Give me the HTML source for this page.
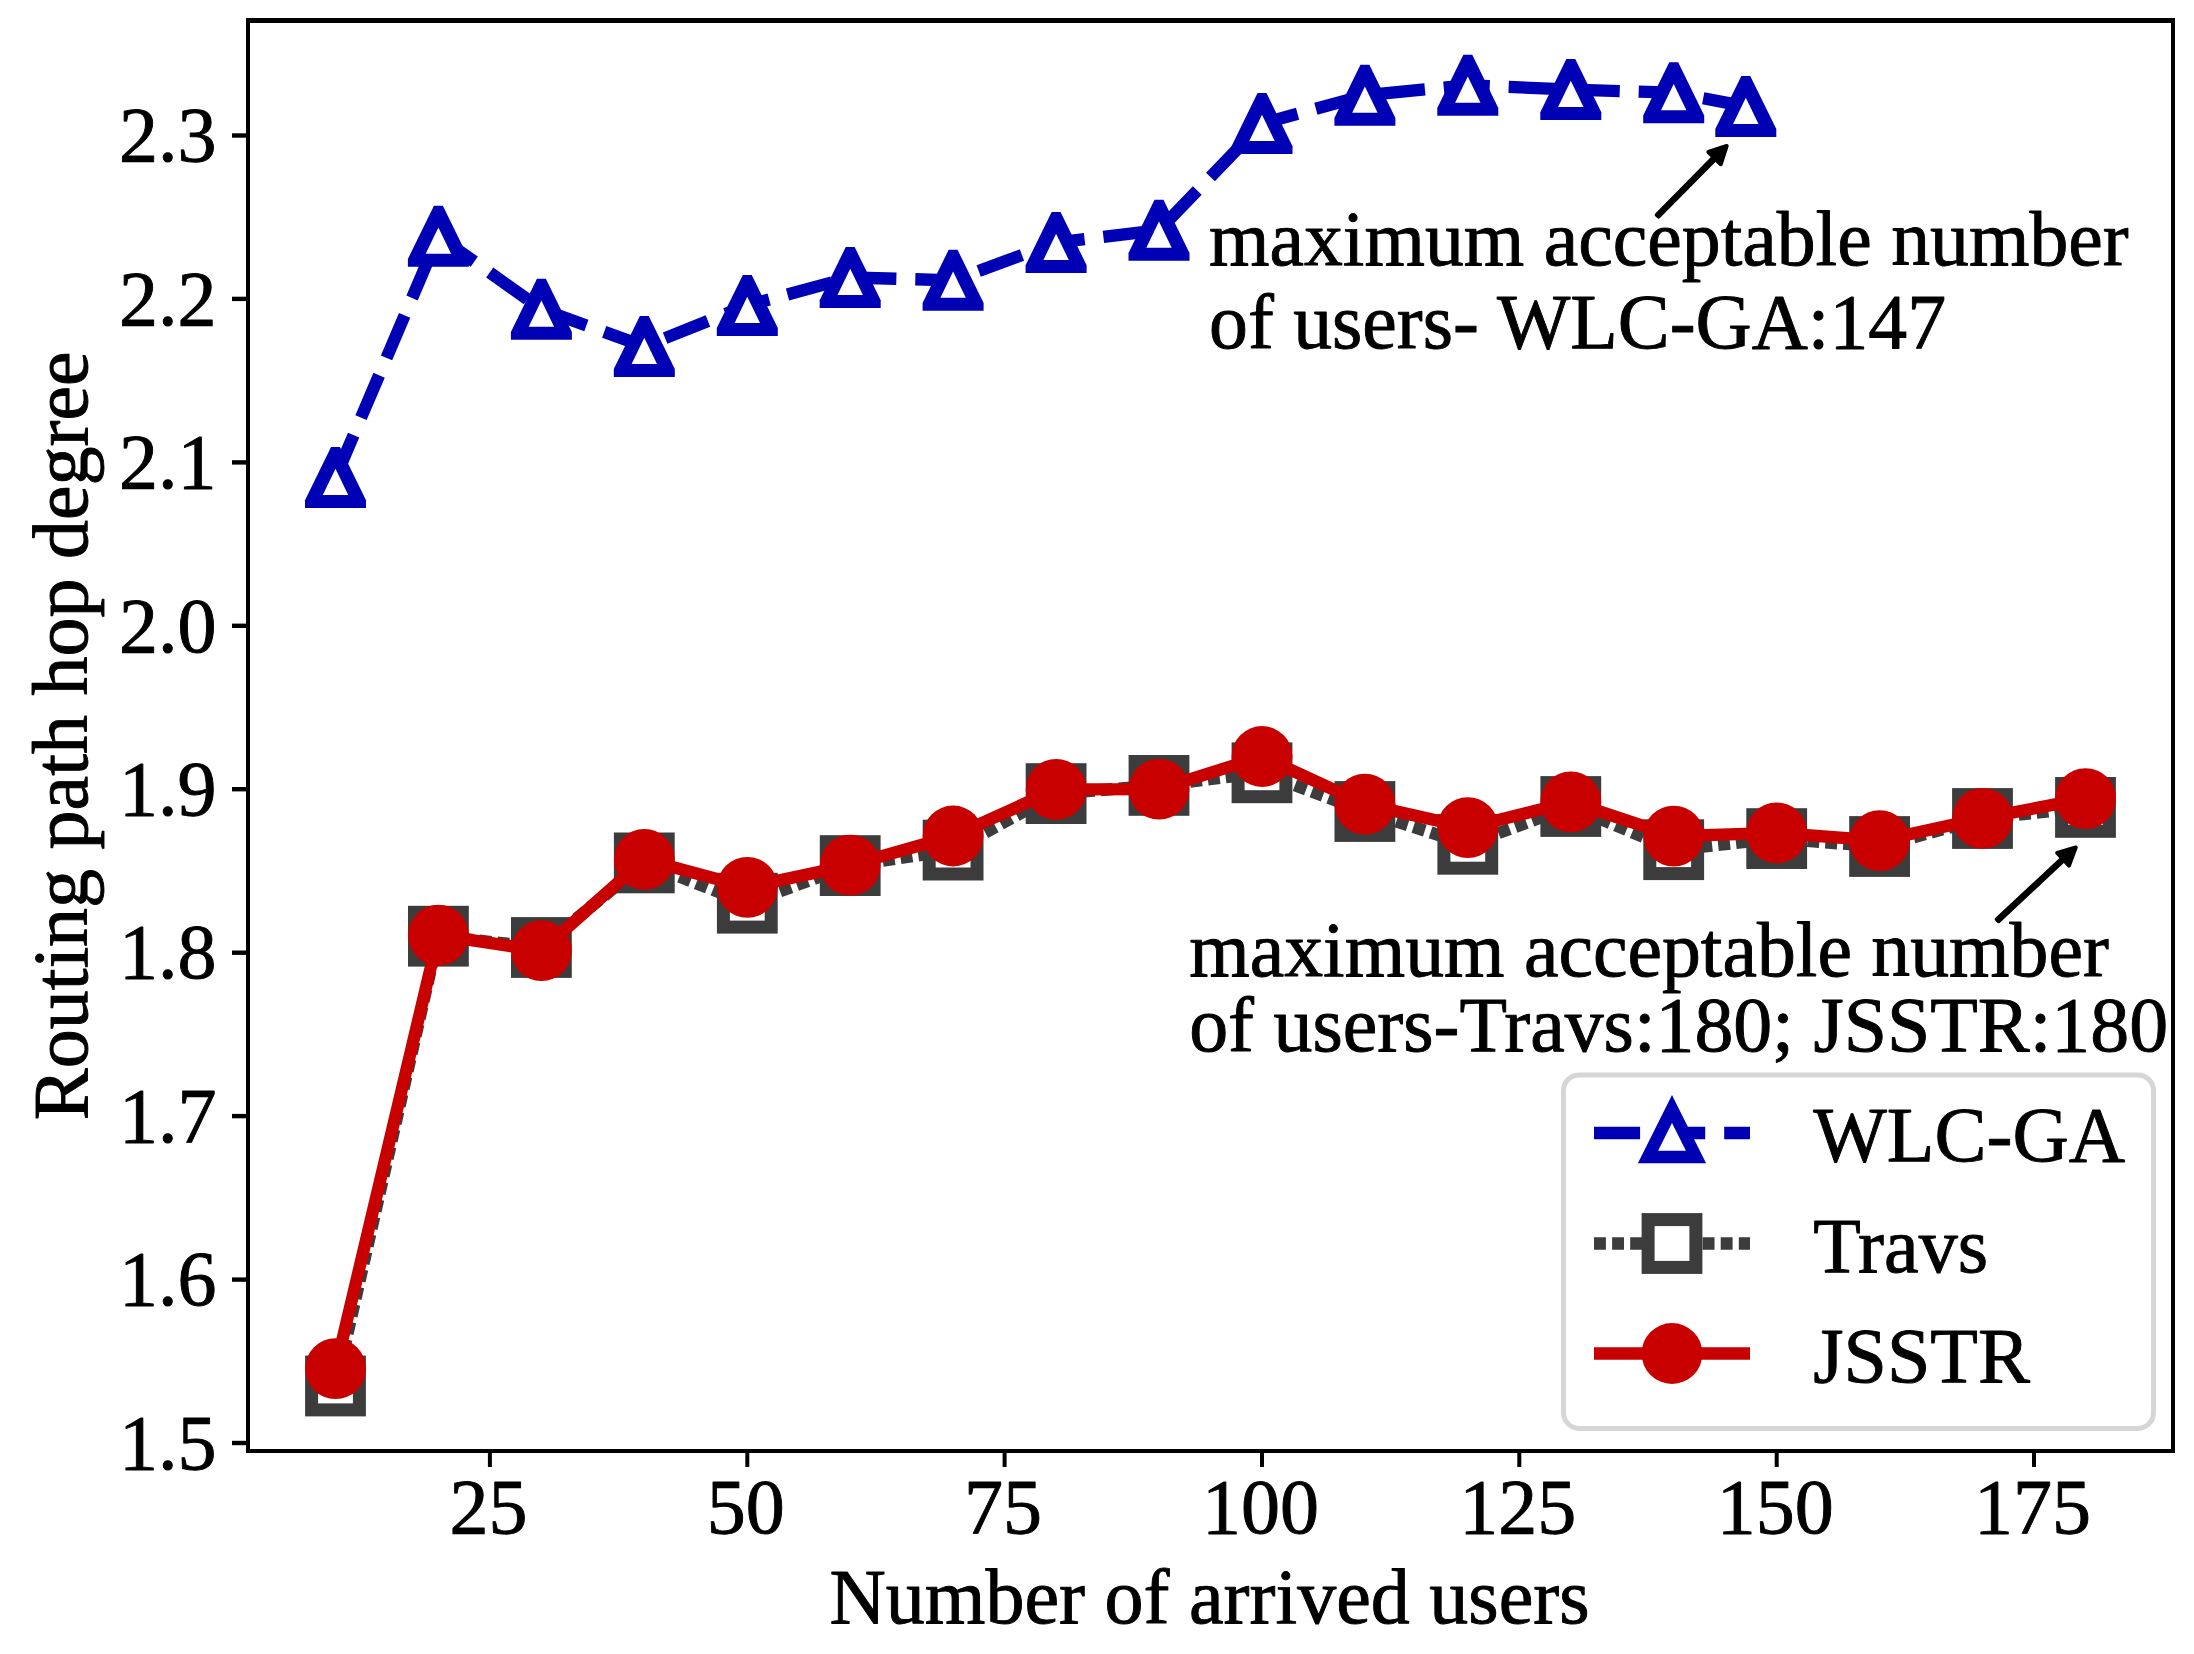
<!DOCTYPE html>
<html><head><meta charset="utf-8"><title>Routing path hop degree</title>
<style>html,body{margin:0;padding:0;background:#fff}svg{display:block}text{stroke:#000;stroke-width:0.9px;stroke-linejoin:round}</style></head>
<body>
<svg width="2194" height="1654" viewBox="0 0 2194 1654" font-family="'Liberation Serif', 'Times New Roman', serif" font-size="78" fill="#000">
<rect width="2194" height="1654" fill="#fff"/>
<polyline points="335.5,477.5 438.4,236.2 541.4,309.2 644.3,346.4 747.3,305.4 850.2,277.5 953.1,280.3 1056.1,242.5 1159.0,230.3 1262.0,123.5 1364.9,95.3 1467.8,85.3 1570.8,89.5 1673.7,92.7 1745.8,106.4" fill="none" stroke="#0000b4" stroke-width="12.3" stroke-dasharray="46.1 18.95" stroke-linejoin="round"/>
<g transform="translate(335.5,477.5)"><polygon points="-4.45,-30.5 4.45,-30.5 30.5,22.7 30.5,30.5 -30.5,30.5 -30.5,22.7" fill="#0000b4"/><polygon points="0,-8.7 12.7,17.5 -12.7,17.5" fill="#fff"/></g>
<g transform="translate(438.4,236.2)"><polygon points="-4.45,-30.5 4.45,-30.5 30.5,22.7 30.5,30.5 -30.5,30.5 -30.5,22.7" fill="#0000b4"/><polygon points="0,-8.7 12.7,17.5 -12.7,17.5" fill="#fff"/></g>
<g transform="translate(541.4,309.2)"><polygon points="-4.45,-30.5 4.45,-30.5 30.5,22.7 30.5,30.5 -30.5,30.5 -30.5,22.7" fill="#0000b4"/><polygon points="0,-8.7 12.7,17.5 -12.7,17.5" fill="#fff"/></g>
<g transform="translate(644.3,346.4)"><polygon points="-4.45,-30.5 4.45,-30.5 30.5,22.7 30.5,30.5 -30.5,30.5 -30.5,22.7" fill="#0000b4"/><polygon points="0,-8.7 12.7,17.5 -12.7,17.5" fill="#fff"/></g>
<g transform="translate(747.3,305.4)"><polygon points="-4.45,-30.5 4.45,-30.5 30.5,22.7 30.5,30.5 -30.5,30.5 -30.5,22.7" fill="#0000b4"/><polygon points="0,-8.7 12.7,17.5 -12.7,17.5" fill="#fff"/></g>
<g transform="translate(850.2,277.5)"><polygon points="-4.45,-30.5 4.45,-30.5 30.5,22.7 30.5,30.5 -30.5,30.5 -30.5,22.7" fill="#0000b4"/><polygon points="0,-8.7 12.7,17.5 -12.7,17.5" fill="#fff"/></g>
<g transform="translate(953.1,280.3)"><polygon points="-4.45,-30.5 4.45,-30.5 30.5,22.7 30.5,30.5 -30.5,30.5 -30.5,22.7" fill="#0000b4"/><polygon points="0,-8.7 12.7,17.5 -12.7,17.5" fill="#fff"/></g>
<g transform="translate(1056.1,242.5)"><polygon points="-4.45,-30.5 4.45,-30.5 30.5,22.7 30.5,30.5 -30.5,30.5 -30.5,22.7" fill="#0000b4"/><polygon points="0,-8.7 12.7,17.5 -12.7,17.5" fill="#fff"/></g>
<g transform="translate(1159.0,230.3)"><polygon points="-4.45,-30.5 4.45,-30.5 30.5,22.7 30.5,30.5 -30.5,30.5 -30.5,22.7" fill="#0000b4"/><polygon points="0,-8.7 12.7,17.5 -12.7,17.5" fill="#fff"/></g>
<g transform="translate(1262.0,123.5)"><polygon points="-4.45,-30.5 4.45,-30.5 30.5,22.7 30.5,30.5 -30.5,30.5 -30.5,22.7" fill="#0000b4"/><polygon points="0,-8.7 12.7,17.5 -12.7,17.5" fill="#fff"/></g>
<g transform="translate(1364.9,95.3)"><polygon points="-4.45,-30.5 4.45,-30.5 30.5,22.7 30.5,30.5 -30.5,30.5 -30.5,22.7" fill="#0000b4"/><polygon points="0,-8.7 12.7,17.5 -12.7,17.5" fill="#fff"/></g>
<g transform="translate(1467.8,85.3)"><polygon points="-4.45,-30.5 4.45,-30.5 30.5,22.7 30.5,30.5 -30.5,30.5 -30.5,22.7" fill="#0000b4"/><polygon points="0,-8.7 12.7,17.5 -12.7,17.5" fill="#fff"/></g>
<g transform="translate(1570.8,89.5)"><polygon points="-4.45,-30.5 4.45,-30.5 30.5,22.7 30.5,30.5 -30.5,30.5 -30.5,22.7" fill="#0000b4"/><polygon points="0,-8.7 12.7,17.5 -12.7,17.5" fill="#fff"/></g>
<g transform="translate(1673.7,92.7)"><polygon points="-4.45,-30.5 4.45,-30.5 30.5,22.7 30.5,30.5 -30.5,30.5 -30.5,22.7" fill="#0000b4"/><polygon points="0,-8.7 12.7,17.5 -12.7,17.5" fill="#fff"/></g>
<g transform="translate(1745.8,106.4)"><polygon points="-4.45,-30.5 4.45,-30.5 30.5,22.7 30.5,30.5 -30.5,30.5 -30.5,22.7" fill="#0000b4"/><polygon points="0,-8.7 12.7,17.5 -12.7,17.5" fill="#fff"/></g>
<polyline points="335.5,1386.0 438.4,936.2 541.4,947.5 644.3,862.9 747.3,903.2 850.2,865.6 953.1,850.1 1056.1,793.6 1159.0,785.4 1262.0,772.8 1364.9,811.5 1467.8,844.3 1570.8,806.5 1673.7,849.7 1776.7,838.6 1879.6,846.5 1982.5,818.5 2085.5,807.4" fill="none" stroke="#3c3c3c" stroke-width="12.3" stroke-dasharray="11.95 6" stroke-linejoin="round"/>
<g transform="translate(335.5,1386.0)"><rect x="-30.4" y="-30.4" width="60.8" height="60.8" fill="#3c3c3c"/><rect x="-17.4" y="-17.4" width="34.8" height="34.8" fill="#fff"/></g>
<g transform="translate(438.4,936.2)"><rect x="-30.4" y="-30.4" width="60.8" height="60.8" fill="#3c3c3c"/><rect x="-17.4" y="-17.4" width="34.8" height="34.8" fill="#fff"/></g>
<g transform="translate(541.4,947.5)"><rect x="-30.4" y="-30.4" width="60.8" height="60.8" fill="#3c3c3c"/><rect x="-17.4" y="-17.4" width="34.8" height="34.8" fill="#fff"/></g>
<g transform="translate(644.3,862.9)"><rect x="-30.4" y="-30.4" width="60.8" height="60.8" fill="#3c3c3c"/><rect x="-17.4" y="-17.4" width="34.8" height="34.8" fill="#fff"/></g>
<g transform="translate(747.3,903.2)"><rect x="-30.4" y="-30.4" width="60.8" height="60.8" fill="#3c3c3c"/><rect x="-17.4" y="-17.4" width="34.8" height="34.8" fill="#fff"/></g>
<g transform="translate(850.2,865.6)"><rect x="-30.4" y="-30.4" width="60.8" height="60.8" fill="#3c3c3c"/><rect x="-17.4" y="-17.4" width="34.8" height="34.8" fill="#fff"/></g>
<g transform="translate(953.1,850.1)"><rect x="-30.4" y="-30.4" width="60.8" height="60.8" fill="#3c3c3c"/><rect x="-17.4" y="-17.4" width="34.8" height="34.8" fill="#fff"/></g>
<g transform="translate(1056.1,793.6)"><rect x="-30.4" y="-30.4" width="60.8" height="60.8" fill="#3c3c3c"/><rect x="-17.4" y="-17.4" width="34.8" height="34.8" fill="#fff"/></g>
<g transform="translate(1159.0,785.4)"><rect x="-30.4" y="-30.4" width="60.8" height="60.8" fill="#3c3c3c"/><rect x="-17.4" y="-17.4" width="34.8" height="34.8" fill="#fff"/></g>
<g transform="translate(1262.0,772.8)"><rect x="-30.4" y="-30.4" width="60.8" height="60.8" fill="#3c3c3c"/><rect x="-17.4" y="-17.4" width="34.8" height="34.8" fill="#fff"/></g>
<g transform="translate(1364.9,811.5)"><rect x="-30.4" y="-30.4" width="60.8" height="60.8" fill="#3c3c3c"/><rect x="-17.4" y="-17.4" width="34.8" height="34.8" fill="#fff"/></g>
<g transform="translate(1467.8,844.3)"><rect x="-30.4" y="-30.4" width="60.8" height="60.8" fill="#3c3c3c"/><rect x="-17.4" y="-17.4" width="34.8" height="34.8" fill="#fff"/></g>
<g transform="translate(1570.8,806.5)"><rect x="-30.4" y="-30.4" width="60.8" height="60.8" fill="#3c3c3c"/><rect x="-17.4" y="-17.4" width="34.8" height="34.8" fill="#fff"/></g>
<g transform="translate(1673.7,849.7)"><rect x="-30.4" y="-30.4" width="60.8" height="60.8" fill="#3c3c3c"/><rect x="-17.4" y="-17.4" width="34.8" height="34.8" fill="#fff"/></g>
<g transform="translate(1776.7,838.6)"><rect x="-30.4" y="-30.4" width="60.8" height="60.8" fill="#3c3c3c"/><rect x="-17.4" y="-17.4" width="34.8" height="34.8" fill="#fff"/></g>
<g transform="translate(1879.6,846.5)"><rect x="-30.4" y="-30.4" width="60.8" height="60.8" fill="#3c3c3c"/><rect x="-17.4" y="-17.4" width="34.8" height="34.8" fill="#fff"/></g>
<g transform="translate(1982.5,818.5)"><rect x="-30.4" y="-30.4" width="60.8" height="60.8" fill="#3c3c3c"/><rect x="-17.4" y="-17.4" width="34.8" height="34.8" fill="#fff"/></g>
<g transform="translate(2085.5,807.4)"><rect x="-30.4" y="-30.4" width="60.8" height="60.8" fill="#3c3c3c"/><rect x="-17.4" y="-17.4" width="34.8" height="34.8" fill="#fff"/></g>
<polyline points="335.5,1368.7 438.4,935.2 541.4,950.7 644.3,859.4 747.3,887.3 850.2,865.2 953.1,836.0 1056.1,789.4 1159.0,789.2 1262.0,756.5 1364.9,804.2 1467.8,827.6 1570.8,801.9 1673.7,836.1 1776.7,832.9 1879.6,840.7 1982.5,818.3 2085.5,798.6" fill="none" stroke="#c80000" stroke-width="12.3" stroke-linejoin="round"/>
<circle cx="335.5" cy="1368.7" r="30.4" fill="#c80000"/>
<circle cx="438.4" cy="935.2" r="30.4" fill="#c80000"/>
<circle cx="541.4" cy="950.7" r="30.4" fill="#c80000"/>
<circle cx="644.3" cy="859.4" r="30.4" fill="#c80000"/>
<circle cx="747.3" cy="887.3" r="30.4" fill="#c80000"/>
<circle cx="850.2" cy="865.2" r="30.4" fill="#c80000"/>
<circle cx="953.1" cy="836.0" r="30.4" fill="#c80000"/>
<circle cx="1056.1" cy="789.4" r="30.4" fill="#c80000"/>
<circle cx="1159.0" cy="789.2" r="30.4" fill="#c80000"/>
<circle cx="1262.0" cy="756.5" r="30.4" fill="#c80000"/>
<circle cx="1364.9" cy="804.2" r="30.4" fill="#c80000"/>
<circle cx="1467.8" cy="827.6" r="30.4" fill="#c80000"/>
<circle cx="1570.8" cy="801.9" r="30.4" fill="#c80000"/>
<circle cx="1673.7" cy="836.1" r="30.4" fill="#c80000"/>
<circle cx="1776.7" cy="832.9" r="30.4" fill="#c80000"/>
<circle cx="1879.6" cy="840.7" r="30.4" fill="#c80000"/>
<circle cx="1982.5" cy="818.3" r="30.4" fill="#c80000"/>
<circle cx="2085.5" cy="798.6" r="30.4" fill="#c80000"/>
<rect x="246" y="18" width="4" height="1435" /><rect x="2171" y="18" width="4" height="1435"/><rect x="246" y="18" width="1929" height="5"/><rect x="246" y="1449" width="1929" height="4"/>
<rect x="487.9" y="1453" width="4" height="14"/>
<text x="488.4" y="1533.3" text-anchor="middle">25</text>
<rect x="745.3" y="1453" width="4" height="14"/>
<text x="745.8" y="1533.3" text-anchor="middle">50</text>
<rect x="1002.6" y="1453" width="4" height="14"/>
<text x="1003.1" y="1533.3" text-anchor="middle">75</text>
<rect x="1260.0" y="1453" width="4" height="14"/>
<text x="1260.5" y="1533.3" text-anchor="middle">100</text>
<rect x="1517.3" y="1453" width="4" height="14"/>
<text x="1517.8" y="1533.3" text-anchor="middle">125</text>
<rect x="1774.7" y="1453" width="4" height="14"/>
<text x="1775.2" y="1533.3" text-anchor="middle">150</text>
<rect x="2032.0" y="1453" width="4" height="14"/>
<text x="2032.5" y="1533.3" text-anchor="middle">175</text>
<rect x="232" y="1440.8" width="14" height="4.4"/>
<text x="216.6" y="1468.7" text-anchor="end">1.5</text>
<rect x="232" y="1277.4" width="14" height="4.4"/>
<text x="216.6" y="1305.3" text-anchor="end">1.6</text>
<rect x="232" y="1113.9" width="14" height="4.4"/>
<text x="216.6" y="1141.8" text-anchor="end">1.7</text>
<rect x="232" y="950.5" width="14" height="4.4"/>
<text x="216.6" y="978.4" text-anchor="end">1.8</text>
<rect x="232" y="787.0" width="14" height="4.4"/>
<text x="216.6" y="814.9" text-anchor="end">1.9</text>
<rect x="232" y="623.6" width="14" height="4.4"/>
<text x="216.6" y="651.5" text-anchor="end">2.0</text>
<rect x="232" y="460.2" width="14" height="4.4"/>
<text x="216.6" y="488.1" text-anchor="end">2.1</text>
<rect x="232" y="296.7" width="14" height="4.4"/>
<text x="216.6" y="324.6" text-anchor="end">2.2</text>
<rect x="232" y="133.3" width="14" height="4.4"/>
<text x="216.6" y="161.2" text-anchor="end">2.3</text>
<text x="1209.5" y="1623" text-anchor="middle">Number of arrived users</text>
<text transform="translate(87,735.75) rotate(-90)" text-anchor="middle">Routing path hop degree</text>
<text x="1209" y="265" font-size="77.75">maximum acceptable number</text>
<text x="1209" y="347.8" font-size="77.75">of users- WLC-GA:147</text>
<text x="1189.2" y="976" font-size="77.75">maximum acceptable number</text>
<text x="1189.2" y="1051" font-size="77.85">of users-Travs:180; JSSTR:180</text>
<polygon points="1658.5,216.6 1715.5,159.0 1720.8,164.2 1726.7,145.9 1708.4,152.0 1713.6,157.2 1656.7,214.8" fill="#000" stroke="#000" stroke-width="4.0" stroke-linejoin="round"/>
<polygon points="1998.5,921.2 2064.0,860.1 2069.0,865.6 2075.7,847.5 2057.2,852.8 2062.2,858.2 1996.8,919.3" fill="#000" stroke="#000" stroke-width="4.0" stroke-linejoin="round"/>
<rect x="1563.5" y="1075" width="590" height="353.4" rx="15.6" ry="15.6" fill="#fff" fill-opacity="0.8" stroke="#d6d6d6" stroke-width="5"/>
<line x1="1594" y1="1133" x2="1750" y2="1133" stroke="#0000b4" stroke-width="12.3" stroke-dasharray="46.1 19"/>
<polygon points="1672,1109 1696,1157 1648,1157" fill="#fff" stroke="#0000b4" stroke-width="12.5" stroke-miterlimit="10"/>
<line x1="1594" y1="1243.5" x2="1750" y2="1243.5" stroke="#3c3c3c" stroke-width="12.3" stroke-dasharray="11.9 6.2"/>
<g transform="translate(1672.0,1243.5)"><rect x="-30.4" y="-30.4" width="60.8" height="60.8" fill="#3c3c3c"/><rect x="-17.4" y="-17.4" width="34.8" height="34.8" fill="#fff"/></g>
<line x1="1594" y1="1353.5" x2="1750" y2="1353.5" stroke="#c80000" stroke-width="12.3"/>
<circle cx="1672.0" cy="1353.5" r="30.4" fill="#c80000"/>
<text x="1813.2" y="1161">WLC-GA</text>
<text x="1813.2" y="1271.5">Travs</text>
<text x="1813.2" y="1381.5">JSSTR</text>
</svg>
</body></html>
